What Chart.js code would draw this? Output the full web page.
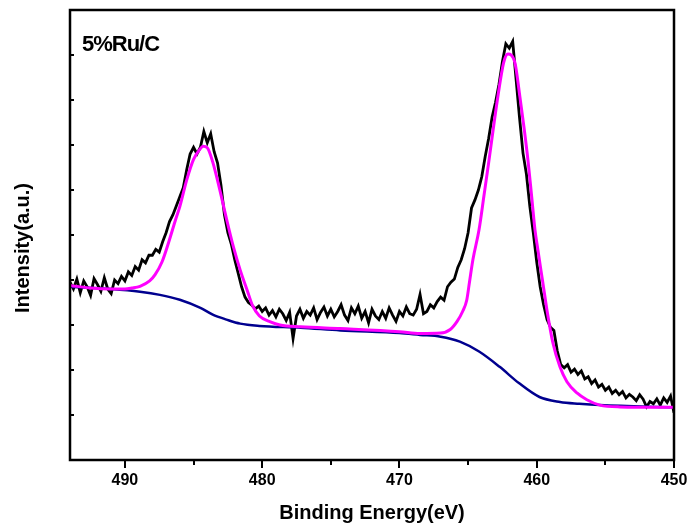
<!DOCTYPE html>
<html>
<head>
<meta charset="utf-8">
<script src="https://cdn.jsdelivr.net/npm/chart.js@4.4.1/dist/chart.umd.min.js"></script>
<style>
  html, body { margin: 0; padding: 0; background: #fff; }
  #wrap { width: 692px; height: 532px; }
</style>
</head>
<body>
<div id="wrap"><canvas id="xps"></canvas></div>
<script>
// Ru 3p spectrum, 5%Ru/C (intensity in a.u.)
var raw_energy = [
	494, 493.75, 493.5, 493.25, 493, 492.75, 492.5, 492.25,
	492, 491.75, 491.5, 491.25, 491, 490.75, 490.5, 490.25,
	490, 489.75, 489.5, 489.25, 489, 488.75, 488.5, 488.25,
	488, 487.75, 487.5, 487.25, 487, 486.75, 486.5, 486.25,
	486, 485.75, 485.5, 485.25, 485, 484.75, 484.5, 484.25,
	484, 483.75, 483.5, 483.25, 483, 482.75, 482.5, 482.25,
	482, 481.75, 481.5, 481.25, 481, 480.75, 480.5, 480.25,
	480, 479.75, 479.5, 479.25, 479, 478.75, 478.5, 478.25,
	478, 477.75, 477.5, 477.25, 477, 476.75, 476.5, 476.25,
	476, 475.75, 475.5, 475.25, 475, 474.75, 474.5, 474.25,
	474, 473.75, 473.5, 473.25, 473, 472.75, 472.5, 472.25,
	472, 471.75, 471.5, 471.25, 471, 470.75, 470.5, 470.25,
	470, 469.75, 469.5, 469.25, 469, 468.75, 468.5, 468.25,
	468, 467.75, 467.5, 467.25, 467, 466.75, 466.5, 466.25,
	466, 465.75, 465.5, 465.25, 465, 464.75, 464.5, 464.25,
	464, 463.75, 463.5, 463.25, 463, 462.75, 462.5, 462.25,
	462, 461.75, 461.5, 461.25, 461, 460.75, 460.5, 460.25,
	460, 459.75, 459.5, 459.25, 459, 458.75, 458.5, 458.25,
	458, 457.75, 457.5, 457.25, 457, 456.75, 456.5, 456.25,
	456, 455.75, 455.5, 455.25, 455, 454.75, 454.5, 454.25,
	454, 453.75, 453.5, 453.25, 453, 452.75, 452.5, 452.25,
	452, 451.75, 451.5, 451.25, 451, 450.75, 450.5, 450.25,
	450
];
var raw_intensity = [
	3.95, 3.80, 4.02, 3.72, 3.98, 3.85, 3.66, 4.03,
	3.90, 3.75, 4.05, 3.80, 3.70, 4.00, 3.92, 4.08,
	3.98, 4.18, 4.10, 4.30, 4.22, 4.45, 4.38, 4.55,
	4.55, 4.68, 4.62, 4.85, 5.05, 5.30, 5.45, 5.65,
	5.85, 6.05, 6.45, 6.80, 6.95, 6.80, 6.95, 7.30,
	7.05, 7.25, 6.85, 6.60, 6.10, 5.45, 5.05, 4.80,
	4.45, 4.15, 3.85, 3.62, 3.50, 3.44, 3.36, 3.42,
	3.30, 3.38, 3.22, 3.32, 3.18, 3.35, 3.25, 3.10,
	3.28, 2.70, 3.20, 3.35, 3.15, 3.30, 3.22, 3.38,
	3.12, 3.28, 3.40, 3.20, 3.35, 3.18, 3.30, 3.45,
	3.22, 3.10, 3.38, 3.25, 3.42, 3.15, 3.30, 3.05,
	3.35, 3.20, 3.12, 3.30, 3.15, 3.38, 3.22, 3.08,
	3.30, 3.20, 3.40, 3.25, 3.22, 3.35, 3.68, 3.25,
	3.30, 3.45, 3.38, 3.52, 3.62, 3.55, 3.85, 3.95,
	4.02, 4.28, 4.45, 4.70, 5.05, 5.60, 5.78, 6.00,
	6.30, 6.75, 7.15, 7.62, 7.95, 8.35, 8.85, 9.25,
	9.15, 9.30, 8.45, 7.60, 6.82, 6.35, 5.63, 5.05,
	4.40, 3.85, 3.45, 3.12, 2.95, 2.88, 2.42, 2.12,
	2.05, 2.12, 1.95, 2.02, 1.90, 1.98, 1.80, 1.85,
	1.70, 1.78, 1.62, 1.68, 1.55, 1.62, 1.48, 1.55,
	1.45, 1.52, 1.38, 1.46, 1.40, 1.32, 1.45, 1.35,
	1.18, 1.30, 1.25, 1.36, 1.22, 1.38, 1.28, 1.42,
	1.05
];

// fitted envelope (magenta)
var fit_energy = [494, 492.5, 491, 490, 489.5, 488.9, 488.2, 487.8, 487.3, 486.8, 486.3, 486, 485.5, 485, 484.55, 484.3, 484, 483.6, 483.1, 482.6, 482.1, 481.6, 481.1, 480.7, 480.2, 479.4, 478.7, 477.2, 474.3, 470, 468.5, 467, 466.3, 465.8, 465.4, 465.1, 464.9, 464.65, 464.2, 463.85, 463.5, 463.17, 462.83, 462.4, 462.1, 461.6, 461.23, 460.91, 460.62, 460.37, 460.13, 459.92, 459.7, 459.48, 459.26, 458.82, 458.31, 457.8, 457.07, 456.35, 455.4, 453.94, 450];
var fit_intensity = [3.88, 3.82, 3.80, 3.80, 3.82, 3.86, 3.98, 4.12, 4.40, 4.85, 5.35, 5.63, 6.22, 6.68, 6.90, 6.97, 6.94, 6.62, 6.02, 5.36, 4.74, 4.22, 3.78, 3.43, 3.20, 3.07, 3.00, 2.96, 2.92, 2.85, 2.81, 2.82, 2.90, 3.08, 3.30, 3.55, 3.95, 4.45, 5.12, 5.86, 6.61, 7.35, 8.08, 8.84, 9.02, 8.84, 8.08, 7.35, 6.61, 5.86, 5.12, 4.68, 4.23, 3.79, 3.34, 2.60, 2.07, 1.74, 1.49, 1.34, 1.22, 1.18, 1.17];

// Shirley background (navy)
var bg_energy = [494, 491, 488.9, 487.45, 486, 484.5, 483.6, 482.6, 481.6, 480.2, 477.2, 474.3, 470, 468.5, 467, 465.6, 464.2, 462.7, 461.3, 459.8, 458.3, 456.9, 455.4, 450];
var bg_intensity = [3.85, 3.80, 3.74, 3.67, 3.56, 3.38, 3.23, 3.12, 3.03, 2.98, 2.94, 2.88, 2.82, 2.78, 2.74, 2.63, 2.41, 2.07, 1.71, 1.40, 1.29, 1.25, 1.22, 1.17];

var x_labels = [490, 480, 470, 460, 450];
var x_minor = [485, 475, 465, 455];
var y_ticks = [1, 2, 3, 4, 5, 6, 7, 8, 9];

var font_family = '"Liberation Sans", Arial, Helvetica, sans-serif';

function to_points(xs, ys) {
	var pts = [];
	for (var i = 0; i < xs.length; i++) {
		pts.push({x: xs[i], y: ys[i]});
	}
	return pts;
}

// frame, inward y ticks, outward x ticks, y title and sample label
var frame_plugin = {
	id: 'frame',
	afterDraw: function(chart) {
		var ctx = chart.ctx;
		var a = chart.chartArea;
		var sx = chart.scales.x;
		var sy = chart.scales.y;

		ctx.save();
		ctx.strokeStyle = '#000';
		ctx.lineWidth = 2;
		ctx.beginPath();
		x_labels.forEach(function(v) {
			var px = Math.round(sx.getPixelForValue(v));
			ctx.moveTo(px, a.bottom);
			ctx.lineTo(px, a.bottom + 8);
		});
		x_minor.forEach(function(v) {
			var px = Math.round(sx.getPixelForValue(v));
			ctx.moveTo(px, a.bottom);
			ctx.lineTo(px, a.bottom + 5);
		});
		y_ticks.forEach(function(v) {
			var py = Math.round(sy.getPixelForValue(v));
			ctx.moveTo(a.left, py);
			ctx.lineTo(a.left + 4, py);
		});
		ctx.stroke();

		ctx.lineWidth = 2.5;
		ctx.strokeRect(a.left, a.top, a.right - a.left, a.bottom - a.top);

		ctx.fillStyle = '#000';
		ctx.font = 'bold 22px ' + font_family;
		ctx.letterSpacing = '-1px';
		ctx.textAlign = 'left';
		ctx.textBaseline = 'alphabetic';
		ctx.fillText('5%Ru/C', a.left + 12, a.top + 41);
		ctx.letterSpacing = '0px';

		ctx.font = 'bold 20px ' + font_family;
		ctx.textAlign = 'center';
		ctx.textBaseline = 'middle';
		ctx.translate(23, (a.top + a.bottom) / 2 + 13);
		ctx.rotate(-Math.PI / 2);
		ctx.fillText('Intensity(a.u.)', 0, 0);
		ctx.restore();
	}
};

var ctx = document.getElementById('xps');

var myChart = new Chart(ctx, {
	type: 'line',
	data: {
		datasets: [{
			label: 'Fit',
			data: to_points(fit_energy, fit_intensity),
			borderColor: '#ff00ff',
			borderWidth: 3,
			pointRadius: 0,
			cubicInterpolationMode: 'monotone'
		}, {
			label: 'Background',
			data: to_points(bg_energy, bg_intensity),
			borderColor: '#00008f',
			borderWidth: 2.5,
			pointRadius: 0,
			cubicInterpolationMode: 'monotone'
		}, {
			label: 'Raw',
			data: to_points(raw_energy, raw_intensity),
			borderColor: '#000000',
			borderWidth: 2.8,
			pointRadius: 0,
			tension: 0
		}]
	},
	options: {
		responsive: true,
		maintainAspectRatio: false,
		animation: false,
		layout: {
			padding: {left: 70, top: 10, right: 18, bottom: 0}
		},
		plugins: {
			legend: {display: false},
			tooltip: {enabled: false}
		},
		scales: {
			x: {
				type: 'linear',
				reverse: true,
				min: 450,
				max: 494,
				afterBuildTicks: function(scale) {
					scale.ticks = x_labels.map(function(v) { return {value: v}; });
				},
				afterFit: function(scale) {
					scale.height = 72;
					scale.paddingLeft = 0;
					scale.paddingRight = 0;
				},
				grid: {display: false, drawTicks: false},
				border: {display: false},
				ticks: {
					color: '#000',
					padding: 11,
					maxRotation: 0,
					font: {family: font_family, size: 16, weight: 'bold'}
				},
				title: {
					display: true,
					text: 'Binding Energy(eV)',
					color: '#000',
					padding: {top: 0, bottom: 7},
					font: {family: font_family, size: 20, weight: 'bold'}
				}
			},
			y: {
				display: false,
				min: 0,
				max: 10
			}
		}
	},
	plugins: [frame_plugin]
});
</script>
</body>
</html>
